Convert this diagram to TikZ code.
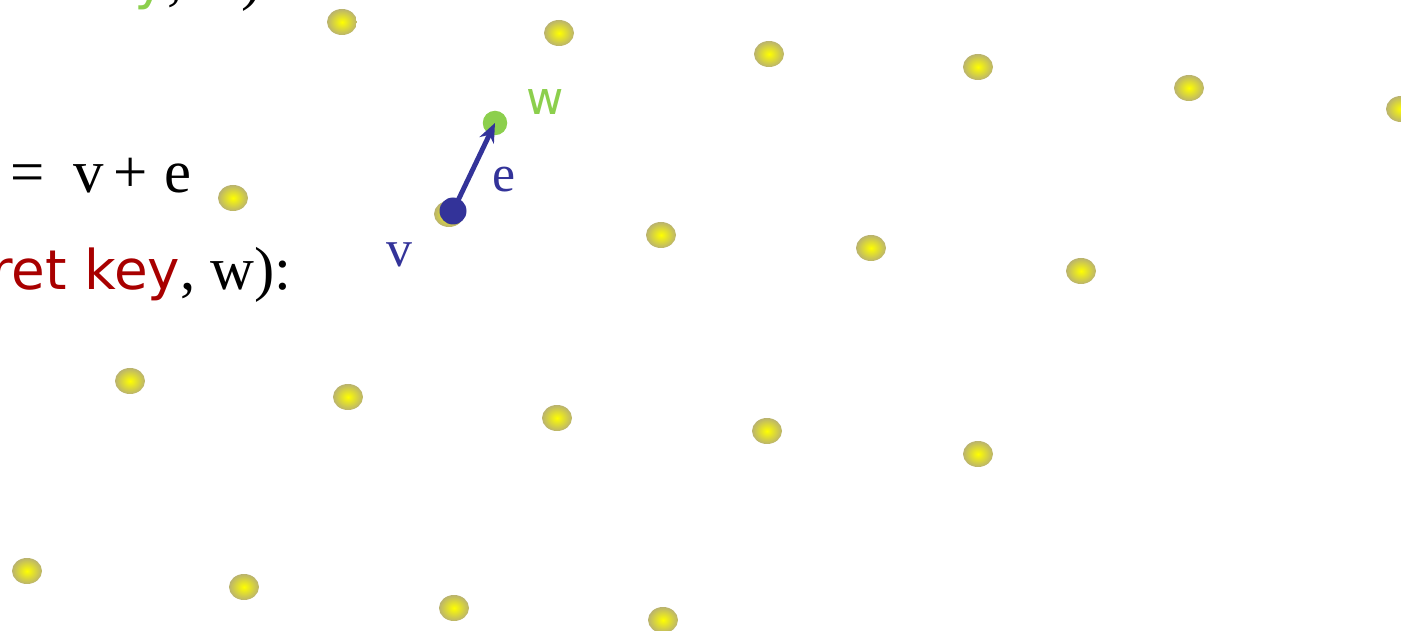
\documentclass[tikz,border=0pt]{standalone}
\usepackage{fontspec}
\usetikzlibrary{arrows.meta,shapes.geometric}
\newfontfamily\serifx{Liberation Serif}
\newfontfamily\sansx{DejaVu Sans}
\definecolor{vecblue}{HTML}{333399}
\definecolor{keygreen}{HTML}{8CCF4D}
\definecolor{keyred}{HTML}{A80000}
\definecolor{ballrim}{HTML}{BAB36E}
\tikzset{
  ball/.style={ellipse, minimum width=0.6cm, minimum height=0.52cm, inner sep=0pt,
    inner color=yellow, outer color=ballrim},
  dotv/.style={circle, fill=vecblue, minimum size=0.54cm, inner sep=0pt},
  dotw/.style={circle, fill=keygreen, minimum size=0.49cm, inner sep=0pt},
  vec/.style={vecblue, line width=2.8pt, -{Stealth[length=11pt,width=9pt]}},
  txt/.style={inner sep=0pt, font=\serifx\fontsize{34.6}{40}\selectfont},
  lbl/.style={inner sep=0pt, anchor=base, font=\serifx\fontsize{29.5}{34}\selectfont},
}
\newcommand{\keyfont}{\sansx\fontsize{31.2}{36}\selectfont}

\begin{document}
\begin{tikzpicture}[x=0.02cm, y=-0.02cm]
    \useasboundingbox (0,0) rectangle (1401,631);
    \clip (0,0) rectangle (1401,631);

    % Lattice points
    \foreach \px/\py [count=\i] in {342/22, 559/33, 769/54, 978/67, 1189/88, 1401/109,
        233/198, 449/214, 661/235, 871/248, 1081/271,
        130/381, 348/397, 557/418, 767/431, 978/454,
        27/571, 244/587, 454/608, 663/620}
        \node[ball] (b\i) at (\px,\py) {};

    % Vertices
    \node[dotv] (v) at (453,211) {};
    \node[dotw] (w) at (495,123) {};

    % Error vector
    \draw[vec] (v.center) -- (w.center);

    % Labels
    \node[lbl, text=keygreen, font=\sansx\fontsize{26}{30}\selectfont] (wlab) at (545,115) {w};
    \node[lbl, text=vecblue] (elab) at (504,192) {e};
    \node[lbl, text=vecblue] (vlab) at (399,267) {v};

    % Text on the left
    \node[txt, anchor=base east] (pub) at (262,-1) {{\keyfont\color{keygreen}key}, w)};
    \node[txt, anchor=base west] (sum) at (10,193) {=\hspace{0.22em} v\,+\hspace{0.27em}e};
    \node[txt, anchor=base east] (sig) at (292,290) {{\keyfont\color{keyred}ret key}, w):};
\end{tikzpicture}
\end{document}
